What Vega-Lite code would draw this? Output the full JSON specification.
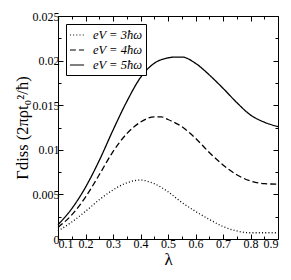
{
  "$schema": "https://vega.github.io/schema/vega-lite/v6.json",
  "width": 220,
  "height": 223,
  "autosize": {"type": "none"},
  "padding": {"left": 58, "top": 16, "right": 13, "bottom": 41},
  "background": "white",
  "config": {
    "font": "Liberation Serif",
    "view": {"stroke": "black", "strokeWidth": 1},
    "axis": {
      "grid": false,
      "domain": false,
      "tickColor": "black",
      "labelColor": "black",
      "titleColor": "black",
      "labelFont": "Liberation Serif",
      "titleFont": "Liberation Serif",
      "labelFontSize": 12,
      "titleFontWeight": "normal",
      "tickWidth": 1
    }
  },
  "data": {
    "values": [
      {"lam": 0.10, "g": 0.0009, "s": "eV = 3ħω"},
      {"lam": 0.15, "g": 0.0019, "s": "eV = 3ħω"},
      {"lam": 0.20, "g": 0.0031, "s": "eV = 3ħω"},
      {"lam": 0.25, "g": 0.0044, "s": "eV = 3ħω"},
      {"lam": 0.30, "g": 0.0055, "s": "eV = 3ħω"},
      {"lam": 0.35, "g": 0.0063, "s": "eV = 3ħω"},
      {"lam": 0.40, "g": 0.0066, "s": "eV = 3ħω"},
      {"lam": 0.45, "g": 0.0062, "s": "eV = 3ħω"},
      {"lam": 0.50, "g": 0.0053, "s": "eV = 3ħω"},
      {"lam": 0.55, "g": 0.0041, "s": "eV = 3ħω"},
      {"lam": 0.60, "g": 0.0031, "s": "eV = 3ħω"},
      {"lam": 0.65, "g": 0.0022, "s": "eV = 3ħω"},
      {"lam": 0.70, "g": 0.0014, "s": "eV = 3ħω"},
      {"lam": 0.75, "g": 0.0009, "s": "eV = 3ħω"},
      {"lam": 0.80, "g": 0.0007, "s": "eV = 3ħω"},
      {"lam": 0.85, "g": 0.0007, "s": "eV = 3ħω"},
      {"lam": 0.90, "g": 0.0007, "s": "eV = 3ħω"},
      {"lam": 0.10, "g": 0.0013, "s": "eV = 4ħω"},
      {"lam": 0.15, "g": 0.0027, "s": "eV = 4ħω"},
      {"lam": 0.20, "g": 0.0047, "s": "eV = 4ħω"},
      {"lam": 0.25, "g": 0.0072, "s": "eV = 4ħω"},
      {"lam": 0.30, "g": 0.0098, "s": "eV = 4ħω"},
      {"lam": 0.35, "g": 0.0118, "s": "eV = 4ħω"},
      {"lam": 0.40, "g": 0.0131, "s": "eV = 4ħω"},
      {"lam": 0.45, "g": 0.0137, "s": "eV = 4ħω"},
      {"lam": 0.475, "g": 0.0137, "s": "eV = 4ħω"},
      {"lam": 0.50, "g": 0.0134, "s": "eV = 4ħω"},
      {"lam": 0.55, "g": 0.0126, "s": "eV = 4ħω"},
      {"lam": 0.60, "g": 0.0113, "s": "eV = 4ħω"},
      {"lam": 0.65, "g": 0.0097, "s": "eV = 4ħω"},
      {"lam": 0.70, "g": 0.0083, "s": "eV = 4ħω"},
      {"lam": 0.75, "g": 0.0072, "s": "eV = 4ħω"},
      {"lam": 0.80, "g": 0.0065, "s": "eV = 4ħω"},
      {"lam": 0.85, "g": 0.0062, "s": "eV = 4ħω"},
      {"lam": 0.90, "g": 0.00615, "s": "eV = 4ħω"},
      {"lam": 0.10, "g": 0.0016, "s": "eV = 5ħω"},
      {"lam": 0.15, "g": 0.0034, "s": "eV = 5ħω"},
      {"lam": 0.20, "g": 0.0058, "s": "eV = 5ħω"},
      {"lam": 0.25, "g": 0.0088, "s": "eV = 5ħω"},
      {"lam": 0.30, "g": 0.0122, "s": "eV = 5ħω"},
      {"lam": 0.35, "g": 0.0154, "s": "eV = 5ħω"},
      {"lam": 0.40, "g": 0.0181, "s": "eV = 5ħω"},
      {"lam": 0.45, "g": 0.0197, "s": "eV = 5ħω"},
      {"lam": 0.50, "g": 0.0203, "s": "eV = 5ħω"},
      {"lam": 0.525, "g": 0.0204, "s": "eV = 5ħω"},
      {"lam": 0.55, "g": 0.0204, "s": "eV = 5ħω"},
      {"lam": 0.60, "g": 0.0197, "s": "eV = 5ħω"},
      {"lam": 0.65, "g": 0.0184, "s": "eV = 5ħω"},
      {"lam": 0.70, "g": 0.0169, "s": "eV = 5ħω"},
      {"lam": 0.75, "g": 0.0153, "s": "eV = 5ħω"},
      {"lam": 0.80, "g": 0.0139, "s": "eV = 5ħω"},
      {"lam": 0.85, "g": 0.0131, "s": "eV = 5ħω"},
      {"lam": 0.90, "g": 0.0126, "s": "eV = 5ħω"}
    ]
  },
  "resolve": {"axis": {"x": "independent", "y": "independent"}},
  "layer": [
    {
      "mark": {"type": "line", "color": "black", "strokeWidth": 1.3, "interpolate": "monotone"},
      "encoding": {
        "x": {
          "field": "lam", "type": "quantitative",
          "scale": {"domain": [0.1, 0.9], "nice": false, "zero": false},
          "axis": {"orient": "bottom", "values": [0.1, 0.2, 0.3, 0.4, 0.5, 0.6, 0.7, 0.8, 0.9], "format": ".1f", "tickSize": -5, "labelPadding": 4, "title": "λ", "titleFontSize": 17, "titlePadding": 2}
        },
        "y": {
          "field": "g", "type": "quantitative",
          "scale": {"domain": [0, 0.025], "nice": false, "zero": true},
          "axis": {"orient": "left", "values": [0, 0.005, 0.01, 0.015, 0.02, 0.025], "format": "~g", "tickSize": -5, "labelPadding": 4, "title": "Γdiss (2πρt₀²/ħ)", "titleFontSize": 16.5, "titlePadding": 2}
        },
        "strokeDash": {
          "field": "s", "type": "nominal",
          "scale": {"domain": ["eV = 3ħω", "eV = 4ħω", "eV = 5ħω"], "range": [[1, 2.2], [6, 3], [1, 0]]},
          "legend": {
            "orient": "top-left", "offset": 8, "title": null,
            "symbolType": "stroke", "symbolStrokeColor": "black", "symbolStrokeWidth": 1.2, "symbolSize": 200,
            "strokeColor": "black", "fillColor": "white", "padding": 3, "cornerRadius": 0,
            "labelFont": "Liberation Serif", "labelFontStyle": "italic", "labelFontSize": 12.5, "labelColor": "black",
            "labelOffset": 8, "rowPadding": 0
          }
        }
      }
    },
    {
      "mark": {"type": "line", "strokeOpacity": 0},
      "encoding": {
        "detail": {"field": "s"},
        "x": {"field": "lam", "type": "quantitative", "axis": {"orient": "top", "values": [0.1, 0.2, 0.3, 0.4, 0.5, 0.6, 0.7, 0.8, 0.9], "labels": false, "tickSize": -5, "title": null}},
        "y": {"field": "g", "type": "quantitative", "axis": {"orient": "right", "values": [0, 0.005, 0.01, 0.015, 0.02, 0.025], "labels": false, "tickSize": -5, "title": null}}
      }
    },
    {
      "mark": {"type": "line", "strokeOpacity": 0},
      "encoding": {
        "detail": {"field": "s"},
        "x": {"field": "lam", "type": "quantitative", "axis": {"orient": "bottom", "values": [0.15, 0.25, 0.35, 0.45, 0.55, 0.65, 0.75, 0.85], "labels": false, "tickSize": -3, "title": null}},
        "y": {"field": "g", "type": "quantitative", "axis": {"orient": "left", "values": [0.0025, 0.0075, 0.0125, 0.0175, 0.0225], "labels": false, "tickSize": -3, "title": null}}
      }
    },
    {
      "mark": {"type": "line", "strokeOpacity": 0},
      "encoding": {
        "detail": {"field": "s"},
        "x": {"field": "lam", "type": "quantitative", "axis": {"orient": "top", "values": [0.15, 0.25, 0.35, 0.45, 0.55, 0.65, 0.75, 0.85], "labels": false, "tickSize": -3, "title": null}},
        "y": {"field": "g", "type": "quantitative", "axis": {"orient": "right", "values": [0.0025, 0.0075, 0.0125, 0.0175, 0.0225], "labels": false, "tickSize": -3, "title": null}}
      }
    }
  ]
}
